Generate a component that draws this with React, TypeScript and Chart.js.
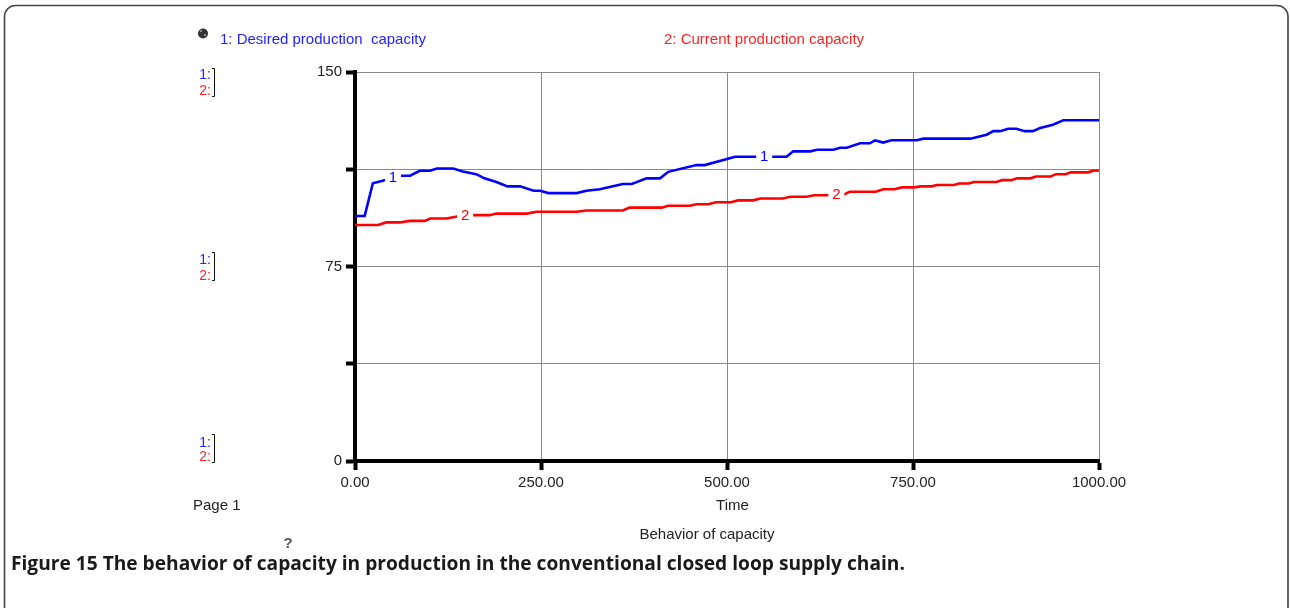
import React, { useEffect, useRef } from "react";
import { Chart, registerables } from "chart.js";

Chart.register(...registerables);

const FONT = "'Liberation Sans', Arial, Helvetica, sans-serif";
const CAPTION_FONT = "'Open Sans', 'Liberation Sans', Arial, sans-serif";

// Series 1: Desired production capacity (time, value)
const desiredTime = [0, 13, 24, 36, 60, 74, 87, 101, 110, 132, 145, 163, 174, 190, 205, 222, 240, 249, 260, 298, 311, 329, 360, 372, 392, 410, 421, 459, 470, 511, 580, 589, 612, 621, 643, 652, 661, 679, 692, 699, 710, 721, 755, 764, 827, 849, 858, 867, 878, 889, 900, 911, 921, 938, 952, 1000];
const desiredValues = [94.5, 94.5, 107.1, 108, 110, 110, 111.9, 111.9, 112.8, 112.8, 111.6, 110.6, 109, 107.6, 105.9, 105.9, 104.2, 104.2, 103.3, 103.3, 104.2, 104.8, 106.8, 106.8, 109, 109, 111.5, 114.1, 114.1, 117.3, 117.3, 119.4, 119.4, 120, 120, 120.8, 120.8, 122.5, 122.5, 123.6, 122.8, 123.7, 123.7, 124.3, 124.3, 125.8, 127.2, 127.2, 128.1, 128.1, 127.2, 127.2, 128.4, 129.7, 131.4, 131.4];

// Series 2: Current production capacity (time, value)
const currentTime = [0, 31, 42, 60, 74, 94, 101, 123, 137, 159, 181, 190, 231, 244, 298, 311, 360, 369, 412, 421, 450, 459, 475, 485, 505, 515, 535, 545, 575, 585, 607, 617, 655, 665, 700, 710, 725, 735, 752, 760, 775, 782, 805, 812, 825, 832, 862, 870, 882, 890, 908, 915, 935, 942, 955, 962, 985, 992, 1000];
const currentValues = [91.0, 91.0, 92.0, 92.0, 92.6, 92.6, 93.5, 93.5, 94.3, 94.8, 94.8, 95.4, 95.4, 96.1, 96.1, 96.6, 96.6, 97.7, 97.7, 98.4, 98.4, 99.0, 99.0, 99.8, 99.8, 100.5, 100.5, 101.2, 101.2, 101.9, 101.9, 102.5, 102.5, 103.8, 103.8, 104.8, 104.8, 105.5, 105.5, 105.9, 105.9, 106.4, 106.4, 107.0, 107.0, 107.6, 107.6, 108.3, 108.3, 109.0, 109.0, 109.7, 109.7, 110.6, 110.6, 111.3, 111.3, 111.9, 112.0];

const xTickValues = [0, 250, 500, 750, 1000];
const xTickLabels = ["0.00", "250.00", "500.00", "750.00", "1000.00"];
const yTickValues = [0, 37.5, 75, 112.5, 150];
const yTickLabels = ["0", "", "75", "", "150"];

const seriesNames = ["1: Desired production  capacity", "2: Current production capacity"];
const seriesColors = ["#0000ff", "#ff0000"];
const legendColors = ["#2424ff", "#ff2424"];
const seriesTags = ["1", "2"];
const tagTimes1 = [51, 550];
const tagTimes2 = [148, 647];

const xTitle = "Time";
const pageTitle = "Behavior of capacity";
const pageLabel = "Page 1";
const caption = "Figure 15 The behavior of capacity in production in the conventional closed loop supply chain.";

function interp(ts: number[], vs: number[], t: number) {
  for (let i = 0; i < ts.length - 1; i++) {
    if (t >= ts[i] && t <= ts[i + 1]) {
      const f = (t - ts[i]) / (ts[i + 1] - ts[i] || 1);
      return vs[i] + f * (vs[i + 1] - vs[i]);
    }
  }
  return vs[vs.length - 1];
}

const decorPlugin = {
  id: "decor",
  beforeDraw(chart: any) {
    const ctx = chart.ctx;
    ctx.save();
    ctx.fillStyle = "#ffffff";
    ctx.fillRect(0, 0, chart.width, chart.height);
    ctx.restore();
  },
  afterDatasetsDraw(chart: any) {
    const ctx = chart.ctx;
    const xs = chart.scales.x;
    const ys = chart.scales.y;
    ctx.save();
    ctx.font = `15px ${FONT}`;
    ctx.textAlign = "center";
    ctx.textBaseline = "middle";
    const groups = [
      { times: tagTimes1, ts: desiredTime, vs: desiredValues, color: seriesColors[0], tag: seriesTags[0] },
      { times: tagTimes2, ts: currentTime, vs: currentValues, color: seriesColors[1], tag: seriesTags[1] },
    ];
    for (const g of groups) {
      for (const t of g.times) {
        const px = xs.getPixelForValue(t);
        const py = ys.getPixelForValue(interp(g.ts, g.vs, t));
        ctx.fillStyle = "#ffffff";
        ctx.fillRect(px - 8, py - 5, 16, 10);
        ctx.fillStyle = g.color;
        ctx.fillText(g.tag, px, py);
      }
    }
    ctx.restore();
  },
  afterDraw(chart: any) {
    const ctx = chart.ctx;
    ctx.save();
    // outer frame
    ctx.strokeStyle = "#444444";
    ctx.lineWidth = 1.6;
    const r = 11;
    const x0 = 4.5, y0 = 5.5, x1 = 1288, y1 = 640;
    ctx.beginPath();
    ctx.moveTo(x0 + r, y0);
    ctx.lineTo(x1 - r, y0);
    ctx.arcTo(x1, y0, x1, y0 + r, r);
    ctx.lineTo(x1, y1);
    ctx.moveTo(x0, y1);
    ctx.lineTo(x0, y0 + r);
    ctx.arcTo(x0, y0, x0 + r, y0, r);
    ctx.stroke();

    ctx.textBaseline = "middle";
    ctx.font = `15px ${FONT}`;
    // legend icon
    ctx.fillStyle = "#333333";
    ctx.beginPath();
    ctx.arc(203, 33.5, 5, 0, Math.PI * 2);
    ctx.fill();
    ctx.fillStyle = "#8a8a8a";
    ctx.fillRect(200, 30, 2, 2);
    ctx.fillRect(204, 34, 2, 2);
    // legend texts
    ctx.textAlign = "left";
    ctx.fillStyle = legendColors[0];
    ctx.fillText(seriesNames[0], 220, 40);
    ctx.fillStyle = legendColors[1];
    ctx.fillText(seriesNames[1], 664, 40);

    // left scale markers
    const groupsY = [[75, 91, 68, 97], [260, 276, 252, 281], [443, 457, 434, 463]];
    ctx.font = `14px ${FONT}`;
    ctx.textAlign = "right";
    for (const g of groupsY) {
      ctx.fillStyle = legendColors[0];
      ctx.fillText("1:", 211, g[0]);
      ctx.fillStyle = legendColors[1];
      ctx.fillText("2:", 211, g[1]);
      ctx.strokeStyle = "#111111";
      ctx.lineWidth = 1;
      ctx.beginPath();
      ctx.moveTo(212, g[2] + 0.5);
      ctx.lineTo(214.5, g[2] + 0.5);
      ctx.lineTo(214.5, g[3] - 0.5);
      ctx.lineTo(212, g[3] - 0.5);
      ctx.stroke();
    }

    ctx.font = `15px ${FONT}`;
    ctx.fillStyle = "#222222";
    ctx.textAlign = "left";
    ctx.fillText(pageLabel, 193, 506);
    ctx.textAlign = "center";
    ctx.fillText(xTitle, 732.5, 506);
    ctx.fillText(pageTitle, 707, 535);

    ctx.font = `bold 15px ${FONT}`;
    ctx.fillStyle = "#555555";
    ctx.fillText("?", 288, 544);

    // caption, sized to span the same width as the reference
    ctx.font = `bold 17px ${CAPTION_FONT}`;
    const w = ctx.measureText(caption).width || 894;
    const size = Math.max(12, Math.min(22, (17 * 894) / w));
    ctx.font = `bold ${size.toFixed(2)}px ${CAPTION_FONT}`;
    ctx.fillStyle = "#1a1a1a";
    ctx.textAlign = "left";
    ctx.fillText(caption, 11, 565, 894);
    ctx.restore();
  },
};

export default function App() {
  const ref = useRef<HTMLCanvasElement | null>(null);
  useEffect(() => {
    if (!ref.current) return;
    const chart = new Chart(ref.current, {
      type: "line",
      data: {
        datasets: [
          {
            label: seriesNames[0],
            data: desiredTime.map((t, i) => ({ x: t, y: desiredValues[i] })),
            borderColor: seriesColors[0],
            borderWidth: 2.6,
            pointRadius: 0,
            tension: 0,
          },
          {
            label: seriesNames[1],
            data: currentTime.map((t, i) => ({ x: t, y: currentValues[i] })),
            borderColor: seriesColors[1],
            borderWidth: 2.6,
            pointRadius: 0,
            tension: 0,
          },
        ],
      },
      options: {
        responsive: false,
        animation: false,
        devicePixelRatio: 1,
        layout: { padding: { left: 300, top: 72, right: 191, bottom: 100 } },
        plugins: { legend: { display: false }, tooltip: { enabled: false }, title: { display: false } },
        scales: {
          x: {
            type: "linear",
            min: 0,
            max: 1000,
            afterBuildTicks: (s: any) => {
              s.ticks = xTickValues.map((v) => ({ value: v }));
            },
            afterFit: (s: any) => {
              s.height = 47;
            },
            ticks: {
              callback: (_v: any, i: number) => xTickLabels[i],
              font: { size: 15, family: FONT },
              color: "#222222",
              padding: 4,
              maxRotation: 0,
              autoSkip: false,
            },
            grid: { color: "#8a8a8a", lineWidth: 1, tickColor: "#000000", tickWidth: 4, tickLength: 9 },
            border: { color: "#000000", width: 4 },
          },
          y: {
            type: "linear",
            min: 0,
            max: 150,
            afterBuildTicks: (s: any) => {
              s.ticks = yTickValues.map((v) => ({ value: v }));
            },
            afterFit: (s: any) => {
              s.width = 55;
            },
            ticks: {
              callback: (_v: any, i: number) => yTickLabels[i],
              font: { size: 15, family: FONT },
              color: "#222222",
              padding: 4,
              autoSkip: false,
            },
            grid: { color: "#8a8a8a", lineWidth: 1, tickColor: "#000000", tickWidth: 4, tickLength: 9 },
            border: { color: "#000000", width: 4 },
          },
        },
      },
      plugins: [decorPlugin],
    });
    return () => chart.destroy();
  }, []);
  return (
    <div style={{ position: "fixed", left: 0, top: 0, width: 1290, height: 608, background: "#fff" }}>
      <canvas ref={ref} width={1290} height={608} style={{ width: 1290, height: 608, display: "block" }} />
    </div>
  );
}
